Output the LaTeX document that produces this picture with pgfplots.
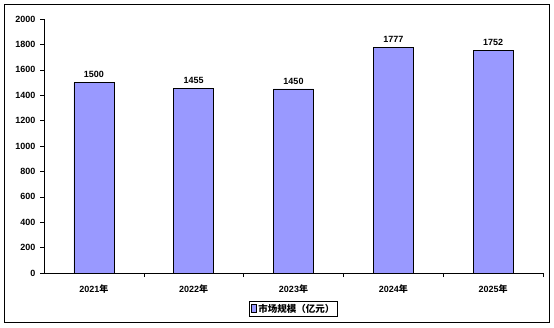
\documentclass[border=0pt]{standalone}
\usepackage{pgfplots}
\pgfplotsset{compat=1.18}
\usepackage{fontspec}
\setmainfont{Liberation Sans}
\newfontfamily\cjk{Noto Sans CJK SC}
\definecolor{barc}{HTML}{9999FF}
\begin{document}
\begin{tikzpicture}[x=1pt,y=1pt]
\useasboundingbox (0,0) rectangle (554,327);
\draw[black, line width=1pt] (4.5,5) rectangle (549.5,322.5);
\begin{axis}[
  at={(44pt,54pt)}, anchor=south west,
  scale only axis, width=499pt, height=254pt,
  xmin=-0.5, xmax=4.5, ymin=0, ymax=2000,
  axis x line*=bottom, axis y line*=left,
  axis line style={black, line width=0.8pt, -},
  ytick={0,200,...,2000},
  xtick={0,1,2,3,4},
  xticklabels={2021{\cjk 年},2022{\cjk 年},2023{\cjk 年},2024{\cjk 年},2025{\cjk 年}},
  minor xtick={0.5,1.5,2.5,3.5,4.5},
  major x tick style={draw=none},
  tick align=outside,
  major tick length=4pt, minor tick length=4pt,
  tick style={black, line width=0.6pt},
  /pgf/number format/assume math mode=true,
  /pgf/number format/1000 sep={},
  ticklabel style={font=\fontsize{9}{10}\selectfont\bfseries},
  xticklabel style={yshift=-4pt},
  yticklabel style={xshift=-1pt},
  legend style={at={(0.5,-0.142)}, anchor=center, draw=black, line width=0.8pt,
    font=\fontsize{9.5}{11}\selectfont\bfseries, inner xsep=1pt, inner ysep=0.5pt,
    legend cell align=left},
  legend image code/.code={\draw[fill=barc, draw=black, line width=0.6pt] (1pt,-3pt) rectangle (6pt,4.5pt);},
  nodes near coords,
  every node near coord/.append style={font=\fontsize{9}{10}\selectfont\bfseries, yshift=1pt},
]
\addplot[ybar, bar width=40pt, fill=barc, draw=black, line width=0.7pt] coordinates {(0,1500) (1,1455) (2,1450) (3,1777) (4,1752)};
\addlegendentry{\cjk 市场规模（亿元）}
\end{axis}
\end{tikzpicture}
\end{document}
